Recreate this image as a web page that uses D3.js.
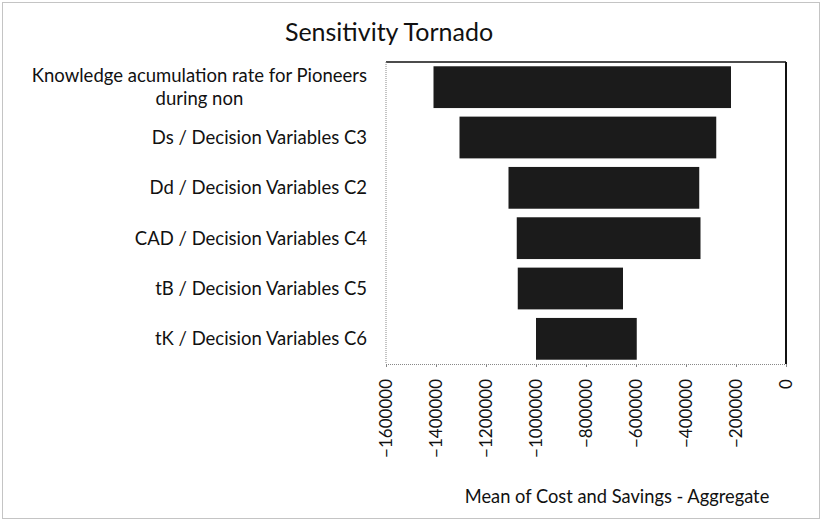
<!DOCTYPE html>
<html><head><meta charset="utf-8">
<style>
body { margin: 0; background: #fff; }
text { font-family: Lato, "Open Sans", sans-serif; fill: #111; }
</style>
</head>
<body>
<svg width="822" height="521"></svg>
<script src="https://cdn.jsdelivr.net/npm/d3@7"></script>
<script>

var categories = [
    ["Knowledge acumulation rate for Pioneers", "during non"],
    ["Ds / Decision Variables C3"],
    ["Dd / Decision Variables C2"],
    ["CAD / Decision Variables C4"],
    ["tB / Decision Variables C5"],
    ["tK / Decision Variables C6"]
];
var lowValues  = [-1410000, -1306000, -1110000, -1077000, -1073000, -1000000];
var highValues = [-220000, -279000, -347000, -342000, -652000, -597000];
var tickValues = [-1600000, -1400000, -1200000, -1000000, -800000, -600000, -400000, -200000, 0];

var svg = d3.select("svg"),
    margin = {top: 62, right: 36, bottom: 157, left: 386},
    width = 822 - margin.left - margin.right,
    height = 521 - margin.top - margin.bottom;

// outer chart border
svg.append("rect")
    .attr("x", 2.5).attr("y", 2.5)
    .attr("width", 817).attr("height", 516)
    .attr("fill", "none")
    .attr("stroke", "#888")
    .attr("stroke-dasharray", "1,1");

svg.append("text")
    .attr("x", 389).attr("y", 41)
    .attr("text-anchor", "middle")
    .style("font-size", "25px")
    .text("Sensitivity Tornado");

var g = svg.append("g").attr("transform", "translate(" + margin.left + "," + margin.top + ")");

var x = d3.scaleLinear().domain([-1600000, 0]).range([0, width]);
var y = d3.scaleBand().domain(d3.range(categories.length)).range([0, height])
    .paddingInner(0.17).paddingOuter(0.085);

var rows = categories.map(function(c, i) { return {label: c, lo: lowValues[i], hi: highValues[i]}; });

g.selectAll(".bar")
    .data(rows)
  .enter().append("rect")
    .attr("class", "bar")
    .attr("x", function(d) { return x(d.lo); })
    .attr("y", function(d, i) { return y(i); })
    .attr("width", function(d) { return x(d.hi) - x(d.lo); })
    .attr("height", y.bandwidth())
    .attr("fill", "#1b1b1b");

// plot frame: solid top and right, dotted left and bottom
g.append("line").attr("x1", 0).attr("x2", width).attr("y1", 0).attr("y2", 0)
    .attr("stroke", "#111").attr("stroke-width", 1.5);
g.append("line").attr("x1", width).attr("x2", width).attr("y1", 0).attr("y2", height)
    .attr("stroke", "#111").attr("stroke-width", 2);
g.append("line").attr("x1", 0).attr("x2", 0).attr("y1", 0).attr("y2", height)
    .attr("stroke", "#888").attr("stroke-dasharray", "1,1");

var xAxis = g.append("g")
    .attr("transform", "translate(0," + height + ")")
    .call(d3.axisBottom(x).tickValues(tickValues).tickSize(3).tickFormat(d3.format("d")));
xAxis.select(".domain").attr("stroke", "#888").attr("stroke-dasharray", "1,1");
xAxis.selectAll(".tick line").attr("stroke", "#888");
xAxis.selectAll(".tick text")
    .attr("transform", "rotate(-90)")
    .attr("text-anchor", "end")
    .attr("x", -15)
    .attr("y", 0)
    .attr("dy", "0.35em")
    .style("font-size", "17px")
    .style("font-family", "Lato, sans-serif")
    .attr("fill", "#111");

// category labels
var labels = svg.append("g");
rows.forEach(function(d, i) {
    var cy = margin.top + y(i) + y.bandwidth() / 2;
    var t = labels.append("text")
        .attr("text-anchor", "end")
        .style("font-size", "18.5px");
    if (d.label.length === 1) {
        t.attr("x", 367).attr("y", cy).attr("dy", "0.35em").text(d.label[0]);
    } else {
        t.attr("x", 367).attr("y", cy - 11.5).attr("dy", "0.35em").text(d.label[0]);
        var w = t.node().getComputedTextLength();
        labels.append("text")
            .attr("text-anchor", "middle")
            .style("font-size", "18.5px")
            .attr("x", 367 - w / 2).attr("y", cy + 11.5).attr("dy", "0.35em")
            .text(d.label[1]);
    }
});

svg.append("text")
    .attr("x", 617).attr("y", 503)
    .attr("text-anchor", "middle")
    .style("font-size", "18.3px")
    .text("Mean of Cost and Savings - Aggregate");

</script>
</body></html>
